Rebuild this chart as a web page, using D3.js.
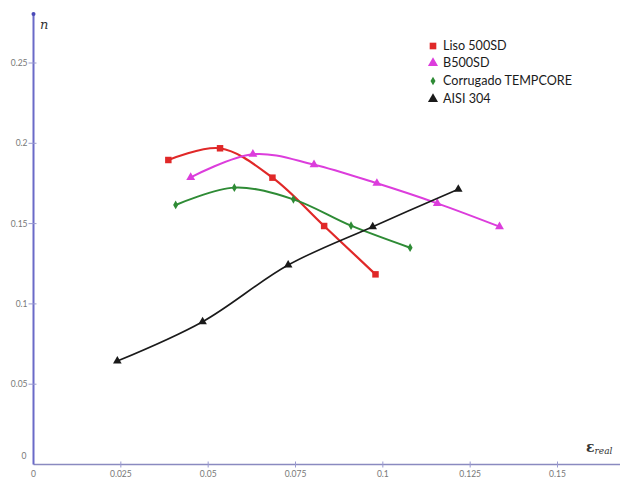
<!DOCTYPE html>
<html><head><meta charset="utf-8">
<script src="https://cdn.jsdelivr.net/npm/d3@7"></script>
<style>body{margin:0;background:#fff}svg{display:block}</style>
</head><body>
<script>
const xTicks = [0, 0.025, 0.05, 0.075, 0.1, 0.125, 0.15];
const xTickLabels = ["0", "0.025", "0.05", "0.075", "0.1", "0.125", "0.15"];
const yTicks = [0.05, 0.1, 0.15, 0.2, 0.25];
const yTickLabels = ["0.05", "0.1", "0.15", "0.2", "0.25"];
const seriesNames = ["Liso 500SD", "B500SD", "Corrugado TEMPCORE", "AISI 304"];
const lisoX = [0.0386, 0.0534, 0.0684, 0.0832, 0.0979];
const lisoY = [0.1896, 0.1969, 0.1786, 0.1485, 0.1184];
const b500X = [0.0450, 0.0628, 0.0803, 0.0983, 0.1156, 0.1334];
const b500Y = [0.1788, 0.1932, 0.1867, 0.1751, 0.1626, 0.1481];
const corrX = [0.0407, 0.0575, 0.0744, 0.0909, 0.1078];
const corrY = [0.1616, 0.1724, 0.1651, 0.1487, 0.1350];
const aisiX = [0.0240, 0.0484, 0.0729, 0.0971, 0.1216];
const aisiY = [0.0644, 0.0889, 0.1242, 0.1481, 0.1714];

const W = 621, H = 479;
const svg = d3.select("body").append("svg").attr("width", W).attr("height", H);
svg.append("rect").attr("width", W).attr("height", H).attr("fill", "#fff");

const x = d3.scaleLinear().domain([0, 0.15]).range([33.5, 557.5]);
const y = d3.scaleLinear().domain([0, 0.25]).range([464.5, 63]);

const axisCol = "#6a6ac8";
// x axis
const gx = svg.append("g").attr("transform", `translate(0,${y(0)})`);
gx.append("line").attr("x1", x(0)).attr("x2", 620).attr("stroke", "#8a8ac0").attr("stroke-width", 1.3);
const xt = gx.selectAll("g.xt").data(xTicks.slice(1)).join("g").attr("transform", d => `translate(${x(d)},0)`);
xt.append("line").attr("y1", -3).attr("y2", 3).attr("stroke", "#9a9ad0").attr("stroke-width", 1);
gx.selectAll("text").data(xTicks).join("text")
  .attr("x", d => x(d)).attr("y", 12).attr("text-anchor", "middle")
  .attr("font-family", "Lato, sans-serif").attr("font-size", 8.5).attr("fill", "#777")
  .text((d, i) => xTickLabels[i]);

// y axis
const gy = svg.append("g").attr("transform", `translate(${x(0)},0)`);
gy.append("line").attr("y1", y(0)).attr("y2", 14).attr("stroke", axisCol).attr("stroke-width", 2);
gy.append("circle").attr("cy", 14).attr("r", 2).attr("fill", "#4a4ab8");
const yt = gy.selectAll("g.yt").data(yTicks).join("g").attr("transform", d => `translate(0,${y(d)})`);
yt.append("line").attr("x1", -5).attr("x2", 3).attr("stroke", "#9a9ad0").attr("stroke-width", 1);
yt.append("text").attr("x", -6).attr("dy", "0.35em").attr("text-anchor", "end")
  .attr("font-family", "Lato, sans-serif").attr("font-size", 8.5).attr("fill", "#777")
  .text((d, i) => yTickLabels[i]);
gy.append("text").attr("x", -7).attr("y", y(0) - 6).attr("text-anchor", "end")
  .attr("font-family", "Lato, sans-serif").attr("font-size", 8.5).attr("fill", "#777").text("0");

// axis titles
svg.append("text").attr("x", 40).attr("y", 29).attr("font-family", "DejaVu Serif, serif")
  .attr("font-style", "italic").attr("font-size", 13).attr("fill", "#333").text("n");
const xl = svg.append("text").attr("x", 586).attr("y", 452).attr("font-family", "DejaVu Serif, serif")
  .attr("font-size", 14).attr("font-weight", "bold").attr("fill", "#333");
xl.append("tspan").text("ε");
xl.append("tspan").attr("font-size", 9).attr("font-weight", "normal").attr("font-style", "italic").attr("dy", 2).text("real");

const series = [
  {name: seriesNames[0], xs: lisoX, ys: lisoY, color: "#e02828", lw: 2.2, marker: "square", msize: 42},
  {name: seriesNames[1], xs: b500X, ys: b500Y, color: "#dc3ddc", lw: 2, marker: "triangle", msize: 34},
  {name: seriesNames[2], xs: corrX, ys: corrY, color: "#2e8b35", lw: 2, marker: "diamond", msize: 22},
  {name: seriesNames[3], xs: aisiX, ys: aisiY, color: "#1a1a1a", lw: 1.6, marker: "triangle", msize: 32}
];
const symType = {square: d3.symbolSquare, triangle: d3.symbolTriangle, diamond: d3.symbolDiamond};
const line = d3.line().x(d => x(d[0])).y(d => y(d[1])).curve(d3.curveCatmullRom.alpha(0.5));

series.forEach(s => {
  const pts = s.xs.map((v, i) => [v, s.ys[i]]);
  svg.append("path").datum(pts).attr("d", line).attr("fill", "none")
    .attr("stroke", s.color).attr("stroke-width", s.lw);
  svg.selectAll(null).data(pts).join("path")
    .attr("transform", d => `translate(${x(d[0])},${y(d[1])})`)
    .attr("d", d3.symbol(symType[s.marker], s.msize)).attr("fill", s.color);
});

// legend
const legY = [46, 63, 81, 99];
const lg = svg.append("g");
series.forEach((s, i) => {
  lg.append("path").attr("transform", `translate(433,${legY[i]})`)
    .attr("d", d3.symbol(symType[s.marker], s.marker === "diamond" ? 22 : 44)).attr("fill", s.color);
  lg.append("text").attr("x", 443).attr("y", legY[i]).attr("dy", "0.35em")
    .attr("font-family", "Lato, sans-serif").attr("font-size", 12.6).attr("fill", "#1a1a1a").text(s.name);
});
</script>
</body></html>
